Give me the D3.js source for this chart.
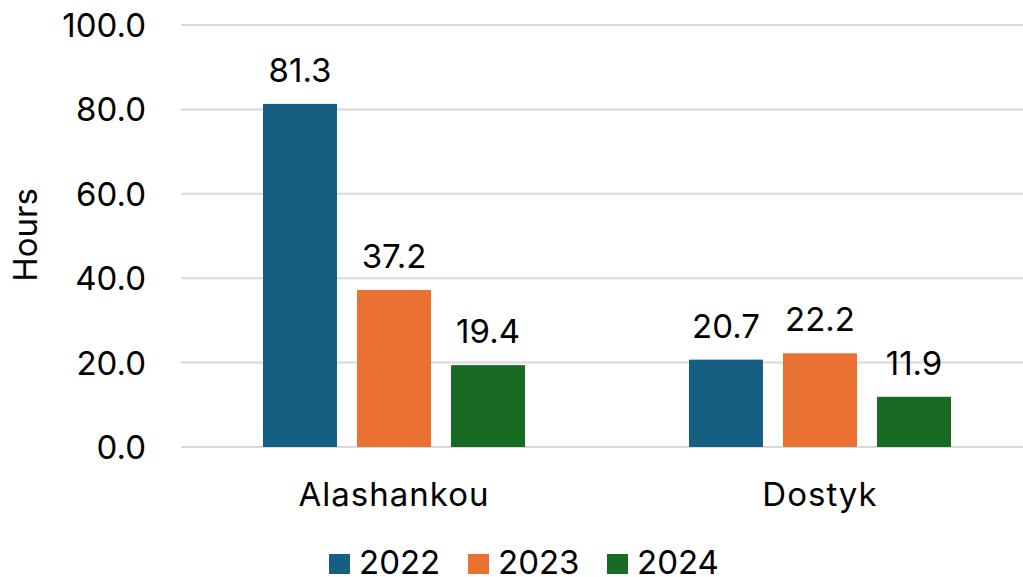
<!DOCTYPE html>
<html>
<head>
<meta charset="utf-8">
<script src="https://cdn.jsdelivr.net/npm/d3@7"></script>
<style>
  body { margin: 0; background: #fff; }
  text { font-family: Inter, "Liberation Sans", sans-serif; fill: #000; font-size: 33px; }
</style>
</head>
<body>
<div id="chart"></div>
<script>
const categories = ["Alashankou", "Dostyk"];
const years = ["2022", "2023", "2024"];
const values2022 = [81.3, 20.7];
const values2023 = [37.2, 22.2];
const values2024 = [19.4, 11.9];
const yTicks = [0, 20, 40, 60, 80, 100];
const yearColors = ["#156082", "#E97132", "#196B24"];

const fullwidth = 1023;
const fullheight = 577;
const series = [values2022, values2023, values2024];

const svg = d3.select("#chart")
  .append("svg")
  .attr("width", fullwidth)
  .attr("height", fullheight);

const x0 = d3.scaleBand().domain(categories).range([181, 1033]);
const x1 = d3.scaleBand().domain(years).range([0, x0.bandwidth()])
  .paddingInner(0.213).paddingOuter(0.872);
const y = d3.scaleLinear().domain([0, 100]).range([447, 25]);
const color = d3.scaleOrdinal().domain(years).range(yearColors);

// gridlines
svg.append("g").selectAll("line")
  .data(yTicks)
  .enter().append("line")
  .attr("x1", 181).attr("x2", fullwidth)
  .attr("y1", d => y(d)).attr("y2", d => y(d))
  .attr("stroke", "#d9d9d9")
  .attr("stroke-width", 2);

// y tick labels
svg.append("g").selectAll("text")
  .data(yTicks)
  .enter().append("text")
  .attr("x", 146)
  .attr("y", d => y(d) + 12)
  .attr("text-anchor", "end")
  .text(d => d3.format(".1f")(d));

// y axis title
svg.append("text")
  .attr("transform", "translate(37,235) rotate(-90)")
  .attr("text-anchor", "middle")
  .text("Hours");

// bars
const rows = categories.map((c, i) => ({
  category: c,
  bars: years.map((yr, j) => ({ year: yr, value: series[j][i] }))
}));

const groups = svg.append("g").selectAll("g")
  .data(rows)
  .enter().append("g")
  .attr("transform", d => `translate(${x0(d.category)},0)`);

groups.selectAll("rect")
  .data(d => d.bars)
  .enter().append("rect")
  .attr("x", d => x1(d.year))
  .attr("y", d => y(d.value))
  .attr("width", x1.bandwidth())
  .attr("height", d => y(0) - y(d.value))
  .attr("fill", d => color(d.year));

groups.selectAll("text")
  .data(d => d.bars)
  .enter().append("text")
  .attr("x", d => x1(d.year) + x1.bandwidth() / 2)
  .attr("y", d => y(d.value) - 22)
  .attr("text-anchor", "middle")
  .text(d => d3.format(".1f")(d.value));

// category labels
svg.append("g").selectAll("text")
  .data(categories)
  .enter().append("text")
  .attr("x", d => x0(d) + x0.bandwidth() / 2)
  .attr("y", 506)
  .attr("text-anchor", "middle")
  .style("letter-spacing", "1px")
  .text(d => d);

// legend
const legendX = [329, 468, 607];
const legend = svg.append("g").selectAll("g")
  .data(years)
  .enter().append("g")
  .attr("transform", (d, i) => `translate(${legendX[i]},554)`);

legend.append("rect")
  .attr("width", 21).attr("height", 20)
  .attr("fill", d => color(d));

legend.append("text")
  .attr("x", 30)
  .attr("y", 20)
  .text(d => d);
</script>
</body>
</html>
